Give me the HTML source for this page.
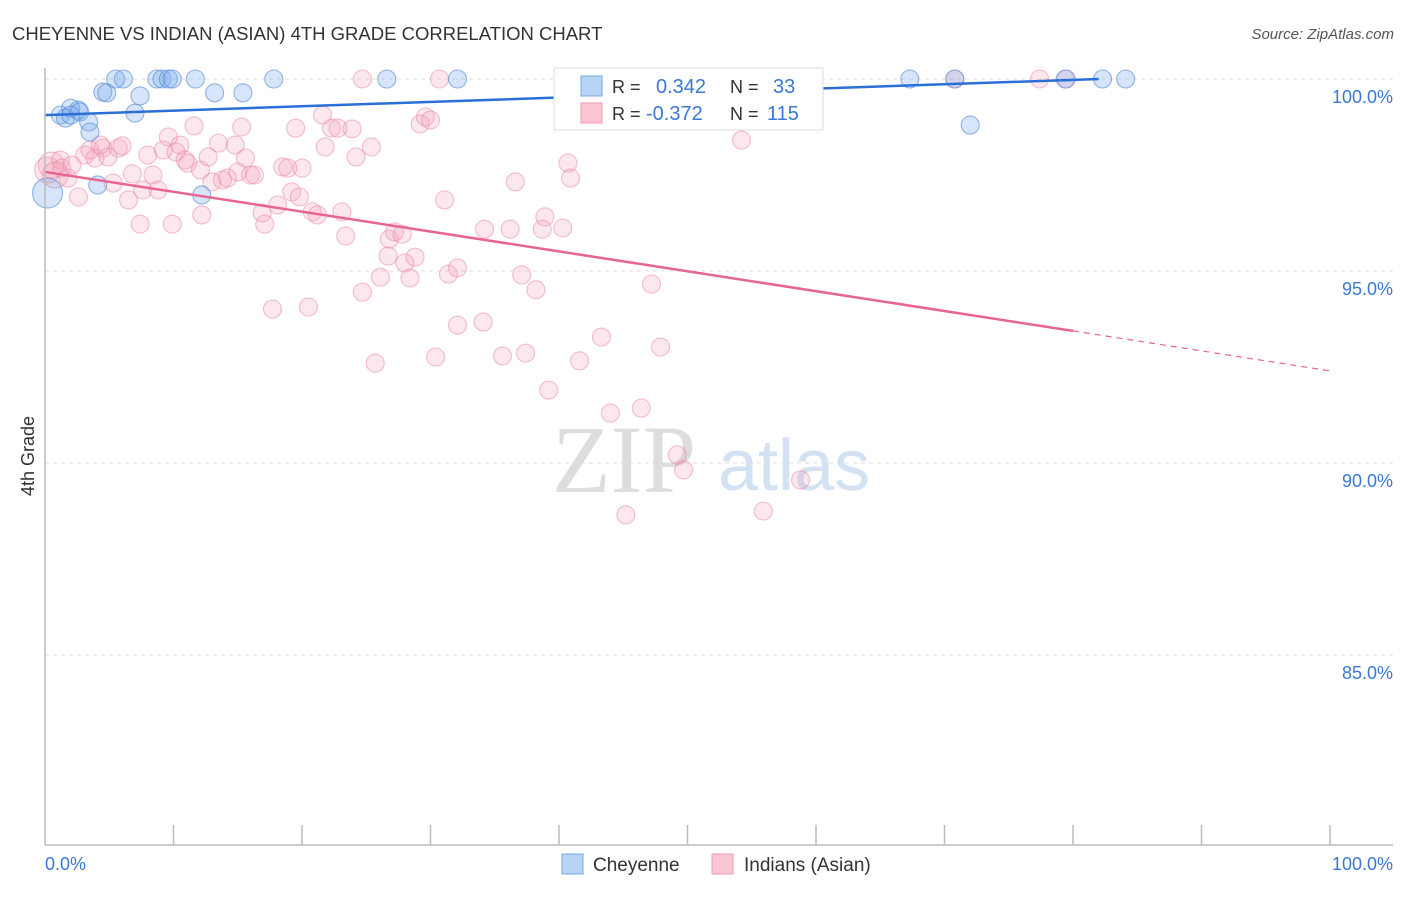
<!DOCTYPE html>
<html><head><meta charset="utf-8"><style>
body{margin:0;background:#fff;font-family:"Liberation Sans",sans-serif}
</style></head><body>
<svg id="c" width="1406" height="892" xmlns="http://www.w3.org/2000/svg">
<text x="12" y="40" font-size="18" fill="#333" style="font-size:18.5px">CHEYENNE VS INDIAN (ASIAN) 4TH GRADE CORRELATION CHART</text>
<text x="1394" y="39" font-size="15" fill="#555" font-style="italic" text-anchor="end">Source: ZipAtlas.com</text>
<text x="552" y="492" font-size="96" fill="#ddd" font-family="Liberation Serif,serif">ZIP</text>
<text x="718" y="490" font-size="72" fill="#d3e2f3">atlas</text>
<text transform="translate(34,456) rotate(-90)" font-size="18" fill="#333" text-anchor="middle">4th Grade</text>
<g id="grid"></g><g id="pts"></g><g id="lines"></g>
<line x1="45" y1="68" x2="45" y2="845" stroke="#bbb" stroke-width="1.5"/>
<line x1="45" y1="845" x2="1393" y2="845" stroke="#bbb" stroke-width="1.5"/>
<text x="45" y="870" font-size="18" fill="#3a78d4">0.0%</text>
<text x="1393" y="870" font-size="18" fill="#3a78d4" text-anchor="end">100.0%</text>
<g>
<rect x="554" y="68" width="269" height="62" fill="#fff" stroke="#ddd"/>
<rect x="581" y="76" width="21" height="20" fill="#b7d3f5" stroke="#7aa8e6"/>
<rect x="581" y="103" width="21" height="20" fill="#fac6d4" stroke="#ef9ab4"/>
<text x="612" y="93" font-size="18" fill="#333">R =</text>
<text x="656" y="93" font-size="20" fill="#3a78d4">0.342</text>
<text x="730" y="93" font-size="18" fill="#333">N =</text>
<text x="773" y="93" font-size="20" fill="#3a78d4">33</text>
<text x="612" y="120" font-size="18" fill="#333">R =</text>
<text x="646" y="120" font-size="20" fill="#3a78d4">-0.372</text>
<text x="730" y="120" font-size="18" fill="#333">N =</text>
<text x="767" y="120" font-size="20" fill="#3a78d4">115</text>
</g>
<g>
<rect x="562" y="854" width="21" height="20" fill="#b7d3f5" stroke="#7aa8e6"/>
<text x="593" y="871" font-size="19" fill="#333">Cheyenne</text>
<rect x="712" y="854" width="21" height="20" fill="#fac6d4" stroke="#ef9ab4"/>
<text x="744" y="871" font-size="19" fill="#333">Indians (Asian)</text>
</g>
</svg>
<script>
const yTicks=[100,95,90,85];
const blueX=[0.2,1.2,1.6,2.0,2.6,2.7,3.4,3.5,4.1,4.5,4.8,5.5,6.1,7.0,7.4,8.7,9.1,9.6,9.9,11.7,12.2,13.2,15.4,17.8,26.6,32.1,67.3,70.8,72.0,79.4,82.3,84.1,2.0];
const blueY=[97.03,99.06,98.98,99.24,99.19,99.14,98.88,98.62,97.24,99.66,99.64,100,100,99.11,99.56,100,100,100,100,100,96.98,99.64,99.64,100,100,100,100,100,98.8,100,100,100,99.06];
const pinkX=[0.2,0.5,0.8,1.2,1.3,1.8,2.1,2.6,3.1,3.5,3.9,4.3,4.5,4.9,5.3,5.7,6.0,6.5,6.8,7.4,7.6,8.0,8.4,8.8,9.2,9.6,9.9,10.2,10.5,10.9,11.1,11.6,12.1,12.2,12.7,13.0,13.5,13.8,14.2,14.8,15.0,15.3,15.6,16.0,16.3,16.9,17.1,17.7,18.1,18.5,18.9,19.2,19.5,19.8,20.0,20.5,20.8,21.2,21.6,21.8,22.3,22.8,23.1,23.4,23.9,24.2,24.7,25.4,25.7,26.1,26.7,26.8,27.2,27.8,28.0,28.4,28.8,29.2,29.6,30.0,30.4,31.1,31.4,32.1,32.1,34.1,34.2,35.6,36.2,36.6,37.1,37.4,38.2,38.7,38.9,39.2,40.3,40.7,40.9,41.6,43.3,44.0,46.4,47.2,47.9,49.2,49.7,45.2,54.2,55.9,58.8,24.7,30.7,46.0,46.8,70.8,77.4,79.5];
const pinkY=[97.63,97.76,97.5,97.89,97.68,97.42,97.76,96.93,98.02,98.15,97.94,98.28,98.2,97.97,97.29,98.2,98.26,96.85,97.53,96.22,97.11,98.02,97.5,97.11,98.15,98.49,96.22,98.1,98.28,97.89,97.81,98.78,97.63,96.46,97.97,97.32,98.33,97.37,97.42,98.28,97.58,98.75,97.94,97.5,97.5,96.51,96.22,94.01,96.72,97.71,97.68,97.06,98.72,96.93,97.68,94.06,96.54,96.46,99.06,98.23,98.72,98.72,96.54,95.91,98.7,97.97,94.45,98.23,92.6,94.84,95.39,95.83,96.02,95.96,95.21,94.82,95.36,98.83,99.01,98.93,92.76,96.85,94.92,95.08,93.59,93.67,96.09,92.79,96.09,97.32,94.9,92.86,94.51,96.09,96.41,91.9,96.12,97.81,97.42,92.66,93.28,91.3,91.43,94.66,93.02,90.21,89.82,88.65,98.41,88.75,89.56,100,100,100,100,100,100,100];
const blueTrend=[[0,99.06],[82,100]];
const pinkTrend=[[0,97.58],[80,93.44],[100,92.4]];
const X=v=>45+v*12.85, Y=v=>79+(100-v)*38.4;
const NS='http://www.w3.org/2000/svg';
function mk(t,a,p){const e=document.createElementNS(NS,t);for(const k in a)e.setAttribute(k,a[k]);p.appendChild(e);return e;}
const grid=document.getElementById('grid');
yTicks.forEach(t=>{
 const l=mk('line',{x1:45,x2:1393,y1:Y(t),y2:Y(t),stroke:'#ddd','stroke-dasharray':'4,4'},grid);
 
 
 const tx=mk('text',{x:1393,y:Y(t)+24,'font-size':18,fill:'#3a78d4','text-anchor':'end'},grid);
 tx.textContent=t.toFixed(1)+'%';
 
 
});
for(let i=1;i<=10;i++){
 const l=mk('line',{x1:X(i*10),x2:X(i*10),y1:825,y2:845,stroke:'#bbb','stroke-width':1.5},grid);
 
 
}
const pts=document.getElementById('pts');
pinkX.forEach((x,i)=>{
 const c=mk('circle',{cx:X(x),cy:Y(pinkY[i]),r:i<3?13:9,fill:'rgba(245,160,185,0.25)',stroke:'rgba(232,130,160,0.5)','stroke-width':1.1},pts);
 
 
});
blueX.forEach((x,i)=>{
 const c=mk('circle',{cx:X(x),cy:Y(blueY[i]),r:i==0?15:9,fill:'rgba(120,170,235,0.3)',stroke:'rgba(80,135,215,0.6)','stroke-width':1.1},pts);
 
 
});
const lines=document.getElementById('lines');
const bl=mk('line',{x1:X(blueTrend[0][0]),y1:Y(blueTrend[0][1]),x2:X(blueTrend[1][0]),y2:Y(blueTrend[1][1]),stroke:'#2a6fd6','stroke-width':2.5},lines);


const pl=mk('line',{x1:X(pinkTrend[0][0]),y1:Y(pinkTrend[0][1]),x2:X(pinkTrend[1][0]),y2:Y(pinkTrend[1][1]),stroke:'#e8658f','stroke-width':2.5},lines);


const pd=mk('line',{x1:X(pinkTrend[1][0]),y1:Y(pinkTrend[1][1]),x2:X(pinkTrend[2][0]),y2:Y(pinkTrend[2][1]),stroke:'#e8658f','stroke-width':1.2,'stroke-dasharray':'6,5'},lines);


</script>
</body></html>
